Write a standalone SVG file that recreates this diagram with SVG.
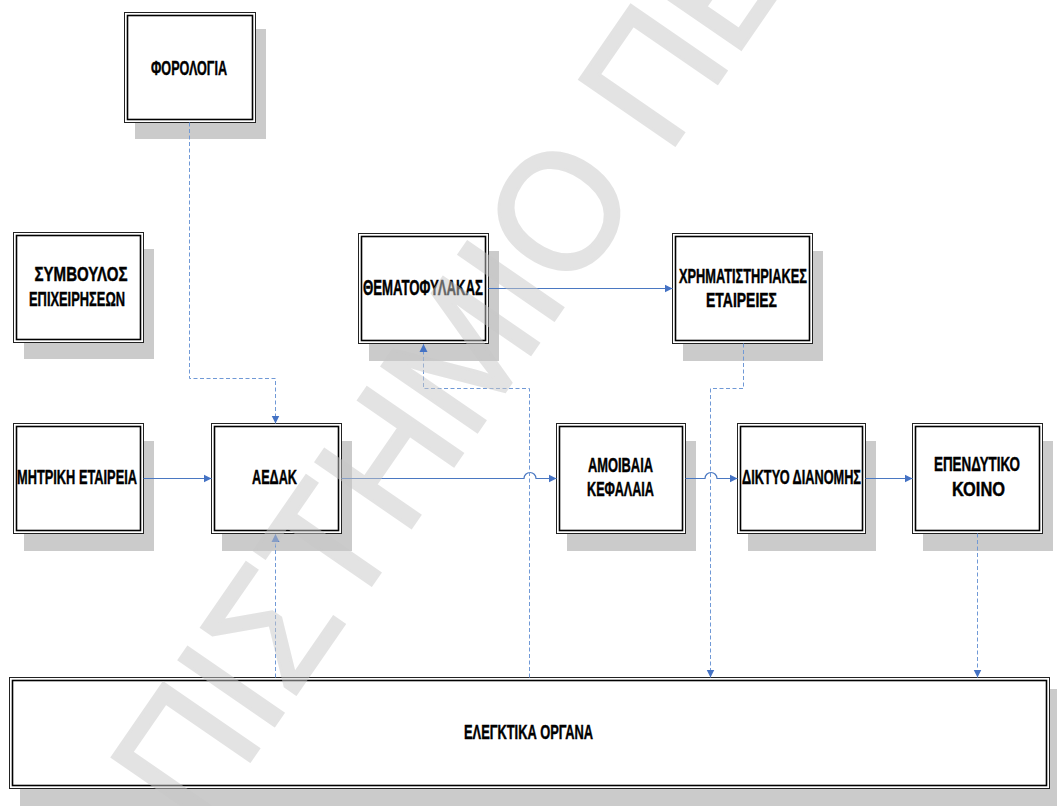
<svg xmlns="http://www.w3.org/2000/svg" width="1057" height="806" viewBox="0 0 1057 806">
<defs>
<style>
.shadow{fill:#cbcbcb;stroke:none}
.outer{fill:#fff;stroke:#222;stroke-width:1}
.inner{fill:none;stroke:#000;stroke-width:1.6}
.lbl{font-family:"Liberation Sans Narrow","Liberation Sans",Arial,sans-serif;font-weight:bold;font-size:21px;fill:#000;stroke:#000;stroke-width:0.45;text-anchor:middle}
.solid{fill:none;stroke:#4a78c2;stroke-width:1.2}
.dash{fill:none;stroke:#7099d6;stroke-width:1;stroke-dasharray:4 2.5}
.wm{font-family:"Liberation Sans",Arial,sans-serif;font-size:168px;fill:#c8c8c8;stroke:#c8c8c8;stroke-width:3;opacity:0.5}
</style>
<marker id="arr" viewBox="0 0 10 10" refX="10" refY="5" markerWidth="8" markerHeight="9" markerUnits="userSpaceOnUse" orient="auto">
<path d="M0,0 L10,5 L0,10 z" fill="#4472c4"/>
</marker>
</defs>
<rect width="1057" height="806" fill="#fff"/>

<g id="node-fologia">
<rect class="shadow" x="135" y="29" width="131" height="110"/>
<rect class="outer" x="124.5" y="12.5" width="131" height="110"/>
<rect class="inner" x="127.5" y="15.5" width="125" height="104"/>
<text class="lbl" x="189" y="75" textLength="76" lengthAdjust="spacingAndGlyphs">ΦΟΡΟΛΟΓΙΑ</text>
</g>

<g id="node-symvoulos">
<rect class="shadow" x="24" y="249" width="130" height="110"/>
<rect class="outer" x="13.5" y="232.5" width="130" height="110"/>
<rect class="inner" x="16.5" y="235.5" width="124" height="104"/>
<text class="lbl" x="81" y="281" textLength="93" lengthAdjust="spacingAndGlyphs">ΣΥΜΒΟΥΛΟΣ</text>
<text class="lbl" x="77" y="306" textLength="96" lengthAdjust="spacingAndGlyphs">ΕΠΙΧΕΙΡΗΣΕΩΝ</text>
</g>

<g id="node-thematofylakas">
<rect class="shadow" x="369" y="251" width="130" height="110"/>
<rect class="outer" x="358.5" y="233.5" width="130" height="110"/>
<rect class="inner" x="361.5" y="236.5" width="124" height="104"/>
<text class="lbl" x="423" y="295" textLength="120" lengthAdjust="spacingAndGlyphs" style="font-size:22.5px">ΘΕΜΑΤΟΦΥΛΑΚΑΣ</text>
</g>

<g id="node-xrimatistiriakes">
<rect class="shadow" x="683" y="251" width="140" height="110"/>
<rect class="outer" x="672.5" y="233.5" width="140" height="110"/>
<rect class="inner" x="675.5" y="236.5" width="134" height="104"/>
<text class="lbl" x="743" y="283" textLength="128" lengthAdjust="spacingAndGlyphs">ΧΡΗΜΑΤΙΣΤΗΡΙΑΚΕΣ</text>
<text class="lbl" x="741.5" y="307" textLength="71" lengthAdjust="spacingAndGlyphs">ΕΤΑΙΡΕΙΕΣ</text>
</g>

<g id="node-mitriki">
<rect class="shadow" x="24" y="441" width="130" height="110"/>
<rect class="outer" x="13.5" y="423.5" width="130" height="110"/>
<rect class="inner" x="16.5" y="426.5" width="124" height="104"/>
<text class="lbl" x="77" y="484" textLength="120" lengthAdjust="spacingAndGlyphs">ΜΗΤΡΙΚΗ ΕΤΑΙΡΕΙΑ</text>
</g>

<g id="node-aedak">
<rect class="shadow" x="222" y="441" width="130" height="110"/>
<rect class="outer" x="211.5" y="423.5" width="130" height="110"/>
<rect class="inner" x="214.5" y="426.5" width="124" height="104"/>
<text class="lbl" x="274.5" y="484" textLength="45" lengthAdjust="spacingAndGlyphs">ΑΕΔΑΚ</text>
</g>

<g id="node-amoivaia">
<rect class="shadow" x="567" y="441" width="129" height="110"/>
<rect class="outer" x="556.5" y="423.5" width="129" height="110"/>
<rect class="inner" x="559.5" y="426.5" width="123" height="104"/>
<text class="lbl" x="620.5" y="472" textLength="65" lengthAdjust="spacingAndGlyphs">ΑΜΟΙΒΑΙΑ</text>
<text class="lbl" x="620.5" y="496" textLength="67" lengthAdjust="spacingAndGlyphs">ΚΕΦΑΛΑΙΑ</text>
</g>

<g id="node-diktyo">
<rect class="shadow" x="748" y="441" width="128" height="110"/>
<rect class="outer" x="737.5" y="423.5" width="128" height="110"/>
<rect class="inner" x="740.5" y="426.5" width="122" height="104"/>
<text class="lbl" x="801.5" y="484" textLength="119" lengthAdjust="spacingAndGlyphs">ΔΙΚΤΥΟ ΔΙΑΝΟΜΗΣ</text>
</g>

<g id="node-ependytiko">
<rect class="shadow" x="923" y="441" width="130" height="110"/>
<rect class="outer" x="912.5" y="423.5" width="130" height="110"/>
<rect class="inner" x="915.5" y="426.5" width="124" height="104"/>
<text class="lbl" x="977" y="471" textLength="86" lengthAdjust="spacingAndGlyphs">ΕΠΕΝΔΥΤΙΚΟ</text>
<text class="lbl" x="978.5" y="496" textLength="53" lengthAdjust="spacingAndGlyphs">ΚΟΙΝΟ</text>
</g>

<g id="node-elegktika">
<rect class="shadow" x="20" y="689" width="1040" height="117"/>
<rect class="outer" x="9.5" y="677.5" width="1040" height="111"/>
<rect class="inner" x="12.5" y="680.5" width="1034" height="105"/>
<text class="lbl" x="528.5" y="739" textLength="129" lengthAdjust="spacingAndGlyphs">ΕΛΕΓΚΤΙΚΑ ΟΡΓΑΝΑ</text>
</g>

<g id="connectors">
<path class="solid" d="M143.5,478.5 H211.5" marker-end="url(#arr)"/>
<path class="solid" d="M341.5,478.5 H524 A6,6 0 0 1 536,478.5 H556.5" marker-end="url(#arr)"/>
<path class="solid" d="M685.5,478.5 H705 A6,6 0 0 1 717,478.5 H737.5" marker-end="url(#arr)"/>
<path class="solid" d="M865.5,478.5 H912.5" marker-end="url(#arr)"/>
<path class="solid" d="M488.5,288.5 H672.5" marker-end="url(#arr)"/>
<path class="dash" d="M189.5,122.5 V378.5 H275.5 V423.5" marker-end="url(#arr)"/>
<path class="dash" d="M275.5,677.5 V534" marker-end="url(#arr)"/>
<path class="dash" d="M529.5,677.5 V388.5 H423.5 V344" marker-end="url(#arr)"/>
<path class="dash" d="M743.5,343.5 V388.5 H710.5 V677.5" marker-end="url(#arr)"/>
<path class="dash" d="M977.5,533.5 V677.5" marker-end="url(#arr)"/>
</g>

<text class="wm" transform="translate(200,833.5) rotate(-55.4)" textLength="1047" lengthAdjust="spacingAndGlyphs">ΠΙΣΤΗΜΙΟ ΠΕ</text>
</svg>
